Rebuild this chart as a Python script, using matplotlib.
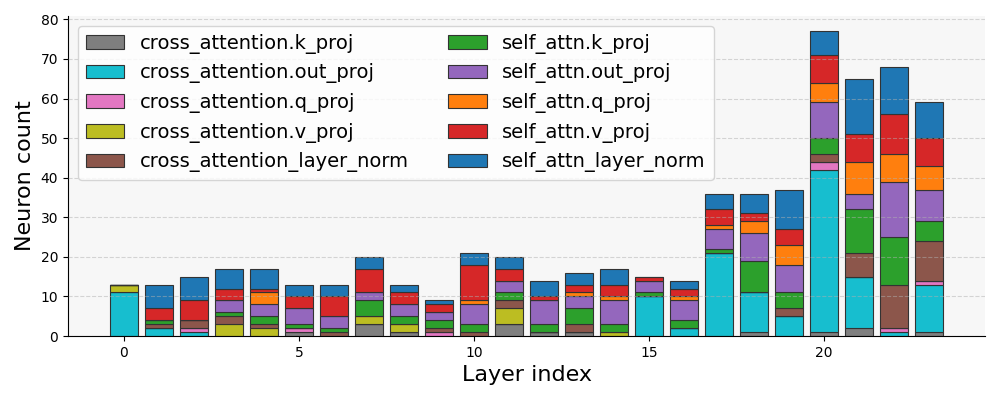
import matplotlib
matplotlib.use("Agg")
import matplotlib.pyplot as plt
import numpy as np

# neuron counts per layer, one list per module
layers = list(range(24))
modules = ["cross_attention.k_proj", "cross_attention.out_proj", "cross_attention.q_proj",
           "cross_attention.v_proj", "cross_attention_layer_norm", "self_attn.k_proj",
           "self_attn.out_proj", "self_attn.q_proj", "self_attn.v_proj", "self_attn_layer_norm"]
colors = ["tab:gray", "tab:cyan", "tab:pink", "tab:olive", "tab:brown",
          "tab:green", "tab:purple", "tab:orange", "tab:red", "tab:blue"]

ca_k = [0, 0, 0, 0, 0, 1, 0, 3, 1, 0, 0, 3, 1, 1, 0, 0, 0, 0, 1, 0, 1, 2, 0, 1]
ca_out = [11, 2, 1, 0, 0, 0, 0, 0, 0, 0, 0, 0, 0, 0, 0, 10, 2, 21, 10, 5, 41, 13, 1, 12]
ca_q = [0, 0, 1, 0, 0, 1, 0, 0, 0, 1, 0, 0, 0, 0, 0, 0, 0, 0, 0, 0, 2, 0, 1, 1]
ca_v = [2, 0, 0, 3, 2, 0, 0, 2, 2, 0, 0, 4, 0, 0, 1, 0, 0, 0, 0, 0, 0, 0, 0, 0]
ca_ln = [0, 1, 2, 2, 1, 0, 1, 0, 0, 1, 1, 2, 0, 2, 0, 0, 0, 0, 0, 2, 2, 6, 11, 10]
sa_k = [0, 1, 0, 1, 2, 1, 1, 4, 2, 2, 2, 2, 2, 4, 2, 1, 2, 1, 8, 4, 4, 11, 12, 5]
sa_out = [0, 0, 0, 3, 3, 4, 3, 2, 3, 2, 5, 3, 6, 3, 6, 3, 5, 5, 7, 7, 9, 4, 14, 8]
sa_q = [0, 0, 0, 0, 3, 0, 0, 0, 0, 0, 1, 0, 0, 1, 1, 0, 1, 1, 3, 5, 5, 8, 7, 6]
sa_v = [0, 3, 5, 3, 1, 3, 5, 6, 3, 2, 9, 3, 1, 2, 3, 1, 2, 4, 2, 4, 7, 7, 10, 7]
sa_ln = [0, 6, 6, 5, 5, 3, 3, 3, 2, 1, 3, 3, 4, 3, 4, 0, 2, 4, 5, 10, 6, 14, 12, 9]

series = [ca_k, ca_out, ca_q, ca_v, ca_ln, sa_k, sa_out, sa_q, sa_v, sa_ln]

fig, ax = plt.subplots(figsize=(10, 4), dpi=100)
ax.set_facecolor("#f7f7f7")

bottom = np.zeros(len(layers))
for name, vals, c in zip(modules, series, colors):
    ax.bar(layers, vals, bottom=bottom, color=c, edgecolor="#333333",
           linewidth=0.8, width=0.8, label=name)
    bottom += np.array(vals)

# grid sits on top of the bars, faint
ax.yaxis.grid(True, linestyle="--", color="#b0b0b0", alpha=0.5, linewidth=0.8)
ax.set_axisbelow(False)
ax.spines["top"].set_visible(False)
ax.spines["right"].set_visible(False)

ax.set_xlabel("Layer index", fontsize=16)
ax.set_ylabel("Neuron count", fontsize=16)
leg = ax.legend(ncol=2, loc="upper left", fontsize=14, handlelength=2.0)
leg.set_zorder(5)

plt.subplots_adjust(left=0.068, right=0.985, top=0.96, bottom=0.16)
plt.savefig("out.png")
